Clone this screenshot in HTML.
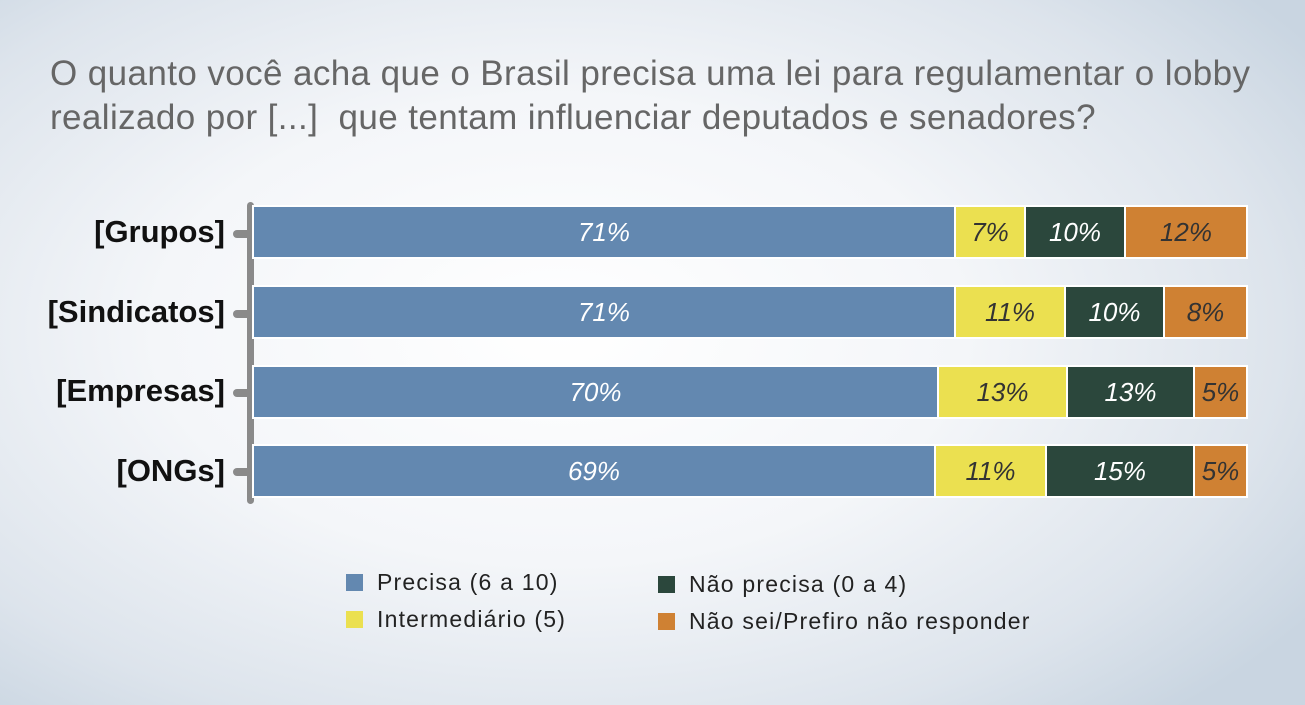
<!DOCTYPE html>
<html><head><meta charset="utf-8"><style>
body{margin:0;width:1305px;height:705px;overflow:hidden;font-family:"Liberation Sans","DejaVu Sans",sans-serif;
background:radial-gradient(ellipse 900px 520px at 560px 330px,#ffffff 0%,#f4f6f9 45%,#dde4ec 80%,#c9d5e1 100%);position:relative}
.t{position:absolute;left:50px;top:52px;font-size:35px;color:#666;line-height:44px;letter-spacing:0.4px;white-space:nowrap}
.bar{position:absolute;left:254px;width:992px;height:50px;display:flex;outline:2px solid #fff}
.bar div{height:100%;box-sizing:border-box;border-right:2px solid #fff;display:flex;align-items:center;justify-content:center;font-style:italic;font-size:26px}
.b{background:#6388b0;color:#fff}.y{background:#ebe050;color:#333}.g{background:#2b473c;color:#fff}.o{background:#cf8133;color:#333;border-right:none!important}
.lab{position:absolute;right:1080px;font-weight:bold;font-size:31px;color:#111;letter-spacing:0px}
.tick{position:absolute;left:233px;width:20px;height:8px;background:#8a8a8a;border-radius:4px}
.ax{position:absolute;left:247px;top:202px;width:7px;height:302px;background:#8a8a8a;border-radius:4px}
.lg{position:absolute;font-size:23px;color:#222;letter-spacing:1.2px}
.lg span{display:inline-block;width:17px;height:17px;margin-right:14px;vertical-align:-1px}
</style></head><body>
<div class="t">O quanto você acha que o Brasil precisa uma lei para regulamentar o lobby<br>realizado por [...]&nbsp; que tentam influenciar deputados e senadores?</div>
<div class="ax"></div>
<div class="tick" style="top:230px"></div><div class="tick" style="top:310px"></div><div class="tick" style="top:389px"></div><div class="tick" style="top:468px"></div>
<div class="lab" style="top:214px">[Grupos]</div>
<div class="lab" style="top:294px">[Sindicatos]</div>
<div class="lab" style="top:373px">[Empresas]</div>
<div class="lab" style="top:453px">[ONGs]</div>
<div class="bar" style="top:207px"><div class="b" style="width:702px">71%</div><div class="y" style="width:70px">7%</div><div class="g" style="width:100px">10%</div><div class="o" style="width:120px">12%</div></div>
<div class="bar" style="top:287px"><div class="b" style="width:702px">71%</div><div class="y" style="width:110px">11%</div><div class="g" style="width:99px">10%</div><div class="o" style="width:81px">8%</div></div>
<div class="bar" style="top:367px"><div class="b" style="width:685px">70%</div><div class="y" style="width:129px">13%</div><div class="g" style="width:127px">13%</div><div class="o" style="width:51px">5%</div></div>
<div class="bar" style="top:446px"><div class="b" style="width:682px">69%</div><div class="y" style="width:111px">11%</div><div class="g" style="width:148px">15%</div><div class="o" style="width:51px">5%</div></div>
<div class="lg" style="left:346px;top:569px"><span style="background:#6388b0"></span>Precisa (6 a 10)</div>
<div class="lg" style="left:346px;top:606px"><span style="background:#ebe050"></span>Intermediário (5)</div>
<div class="lg" style="left:658px;top:571px"><span style="background:#2b473c"></span>Não precisa (0 a 4)</div>
<div class="lg" style="left:658px;top:608px"><span style="background:#cf8133"></span>Não sei/Prefiro não responder</div>
</body></html>
